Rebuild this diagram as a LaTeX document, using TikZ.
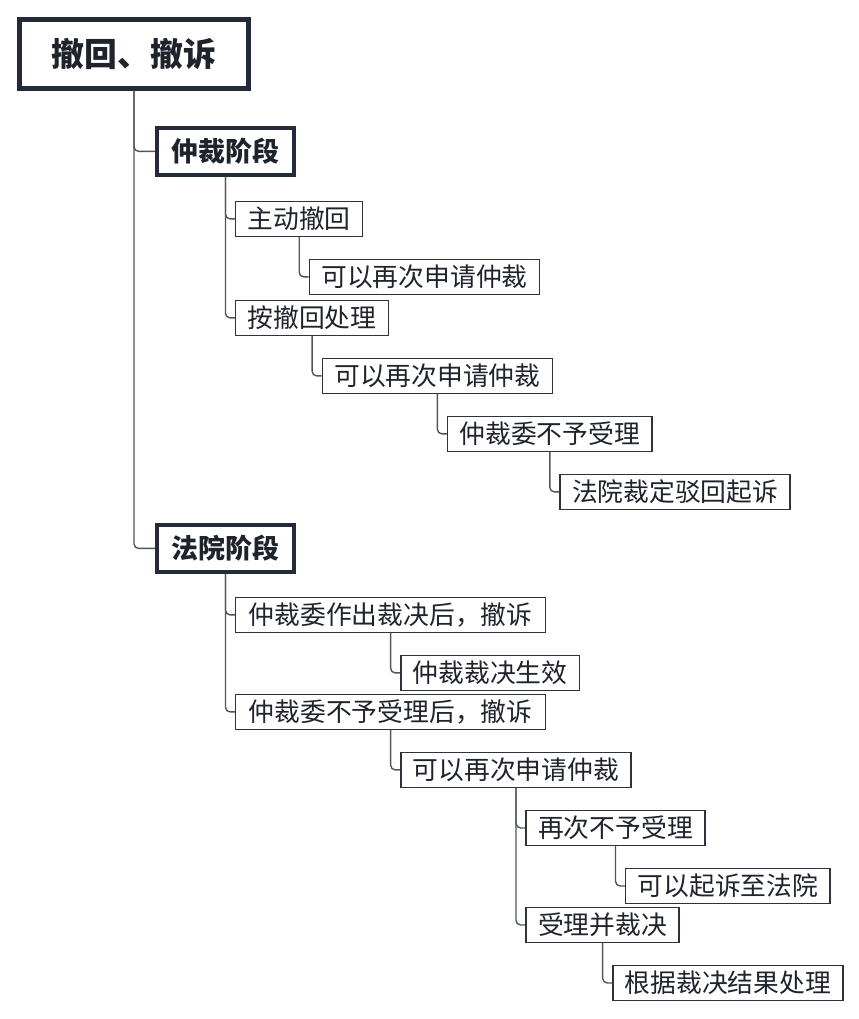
\documentclass[tikz,border=0pt]{standalone}
\usepackage{fontspec}
\setmainfont{Noto Sans CJK SC}
\usepackage{tikz}
\usetikzlibrary{positioning,calc}
\definecolor{mapNavy}{HTML}{232B3B}
\definecolor{mapBorder}{HTML}{2E323A}
\definecolor{mapText}{HTML}{1E232C}
\definecolor{mapLine}{HTML}{50555D}
\tikzset{
  mapbox/.style={draw=mapBorder, fill=white, text=mapText, align=center, inner xsep=0.36cm, inner ysep=0pt, minimum height=1.038cm, line width=1.2pt, font=\fontsize{22pt}{24pt}\selectfont},
  maproot/.style={mapbox, draw=mapNavy, line width=4.2pt, minimum width=6.87cm, minimum height=2.07cm, font=\fontsize{28pt}{30pt}\selectfont\bfseries},
  mapstage/.style={mapbox, draw=mapNavy, line width=3.4pt, minimum width=4.11cm, minimum height=1.41cm, font=\fontsize{23pt}{25pt}\selectfont\bfseries},
  mapline/.style={draw=mapLine, line width=1.2pt, rounded corners=4pt}
}

\begin{document}
\begin{tikzpicture}
    \useasboundingbox (0,0) rectangle (25.74,-30.57);

    \node[maproot, anchor=north west] (root) at (0.51,-0.51) {撤回、撤诉};

    % 仲裁阶段
    \node[mapstage, below right=1.05cm and 0.63cm of root.south] (zcjd) {仲裁阶段};
    \node[mapbox, below right=0.72cm and 0.285cm of zcjd.south] (zdch) {主动撤回};
    \node[mapbox, below right=0.66cm and 0.285cm of zdch.south] (zdch1) {可以再次申请仲裁};
    \node[mapbox, anchor=north west] (acch) at ($(zdch.west |- zdch1.south)+(0,-0.15)$) {按撤回处理};
    \node[mapbox, below right=0.66cm and 0.285cm of acch.south] (acch1) {可以再次申请仲裁};
    \node[mapbox, below right=0.66cm and 0.285cm of acch1.south] (bysl) {仲裁委不予受理};
    \node[mapbox, below right=0.66cm and 0.285cm of bysl.south] (bhqs) {法院裁定驳回起诉};

    % 法院阶段
    \node[mapstage, anchor=north west] (fyjd) at ($(zcjd.west |- bhqs.south)+(0,-0.39)$) {法院阶段};
    \node[mapbox, minimum width=9.3cm, below right=0.69cm and 0.285cm of fyjd.south] (zccs) {仲裁委作出裁决后，撤诉};
    \node[mapbox, below right=0.66cm and 0.285cm of zccs.south] (zccs1) {仲裁裁决生效};
    \node[mapbox, minimum width=9.3cm, anchor=north west] (bycs) at ($(zccs.west |- zccs1.south)+(0,-0.09)$) {仲裁委不予受理后，撤诉};
    \node[mapbox, below right=0.66cm and 0.285cm of bycs.south] (bycs1) {可以再次申请仲裁};
    \node[mapbox, below right=0.66cm and 0.285cm of bycs1.south] (zcby) {再次不予受理};
    \node[mapbox, below right=0.66cm and 0.285cm of zcby.south] (zcby1) {可以起诉至法院};
    \node[mapbox, anchor=north west] (slcj) at ($(zcby.west |- zcby1.south)+(0,-0.09)$) {受理并裁决};
    \node[mapbox, below right=0.66cm and 0.285cm of slcj.south] (slcj1) {根据裁决结果处理};

    \draw[mapline] (root.south) |- (zcjd.west);
    \draw[mapline] (root.south) |- (fyjd.west);
    \draw[mapline] (zcjd.south) |- (zdch.west);
    \draw[mapline] (zcjd.south) |- (acch.west);
    \draw[mapline] (zdch.south) |- (zdch1.west);
    \draw[mapline] (acch.south) |- (acch1.west);
    \draw[mapline] (acch1.south) |- (bysl.west);
    \draw[mapline] (bysl.south) |- (bhqs.west);
    \draw[mapline] (fyjd.south) |- (zccs.west);
    \draw[mapline] (fyjd.south) |- (bycs.west);
    \draw[mapline] (zccs.south) |- (zccs1.west);
    \draw[mapline] (bycs.south) |- (bycs1.west);
    \draw[mapline] (bycs1.south) |- (zcby.west);
    \draw[mapline] (bycs1.south) |- (slcj.west);
    \draw[mapline] (zcby.south) |- (zcby1.west);
    \draw[mapline] (slcj.south) |- (slcj1.west);
  \end{tikzpicture}
\end{document}
